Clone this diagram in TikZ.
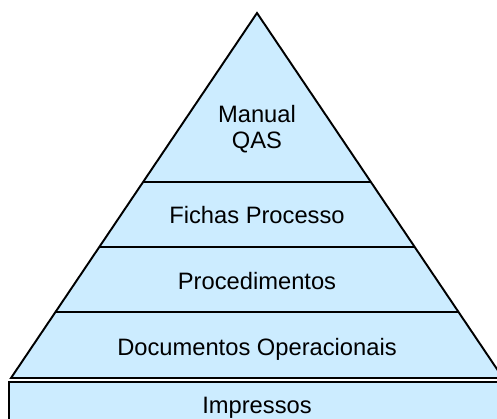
\documentclass[tikz,border=0pt]{standalone}
\usepackage{fontspec}
\setmainfont{Liberation Sans}
\usetikzlibrary{calc}
\definecolor{layerblue}{RGB}{204,236,255}

\begin{document}
\begin{tikzpicture}[x=0.02cm,y=-0.02cm,
    level/.style={anchor=base,align=center,font=\fontsize{13.5}{14.7}\selectfont}]
      \useasboundingbox (0,0) rectangle (497,419);
      % base slab
      \draw[fill=layerblue,line width=1.1pt] (9,382) rectangle (520,440);
      % pyramid
      \coordinate (apex) at (257,13);
      \coordinate (left) at (11,378);
      \coordinate (right) at (503,378);
      \draw[fill=layerblue,line width=1.1pt] (apex) -- (left) -- (right) -- cycle;
      \foreach \t in {0.463,0.641,0.819}
        \draw[line width=1.1pt] ($(apex)!\t!(left)$) -- ($(apex)!\t!(right)$);
      \node[level] (manual) at (257,148) {Manual\\QAS};
      \node[level] (fichas) at (257,223) {Fichas Processo};
      \node[level] (proc) at (257,289) {Procedimentos};
      \node[level] (docs) at (257,355) {Documentos Operacionais};
      \node[level] (impressos) at (257,413) {Impressos};
\end{tikzpicture}
\end{document}
